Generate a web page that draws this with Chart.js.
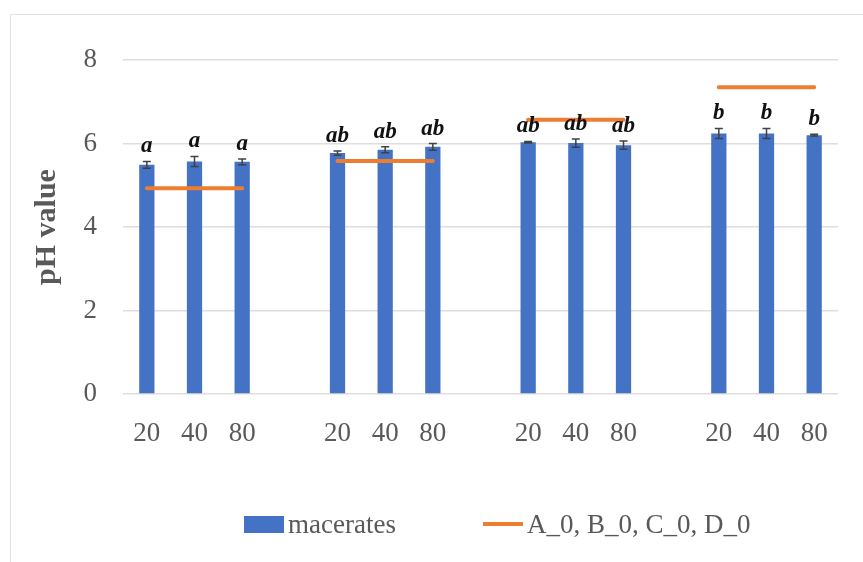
<!DOCTYPE html>
<html>
<head>
<meta charset="utf-8">
<script src="https://cdn.jsdelivr.net/npm/chart.js@4.4.1/dist/chart.umd.min.js"></script>
<style>
  html, body { margin: 0; padding: 0; background: #fff; }
  #wrap { position: relative; width: 863px; height: 562px; overflow: hidden; }
  #frame {
    position: absolute; left: 10px; top: 14px; width: 900px; height: 600px;
    border: 1.5px solid #e3e3e3; box-sizing: border-box;
  }
  #chart { position: absolute; left: 0; top: 0; }
  .legend {
    position: absolute; top: 506px; height: 36px; display: flex; align-items: center;
    font-family: "Liberation Serif", serif; font-size: 27px; color: #595959;
  }
  .legend .box  { width: 40px; height: 17px; background: #4472C4; margin-right: 4px; }
  .legend .line { width: 40px; height: 4px;  background: #ED7D31; margin-right: 4px; }
</style>
</head>
<body>
<div id="wrap">
  <div id="frame"></div>
  <canvas id="chart" width="863" height="562"></canvas>
  <div class="legend" style="left:244px"><span class="box"></span>macerates</div>
  <div class="legend" style="left:483px"><span class="line"></span>A_0, B_0, C_0, D_0</div>
</div>
<script>
"use strict";

// ── Data (15 slots: 4 groups of 3, blank slot between groups) ─────────────────
const categories = ["20", "40", "80", "", "20", "40", "80", "", "20", "40", "80", "", "20", "40", "80"];
const macerates  = [5.49, 5.57, 5.56, null, 5.77, 5.85, 5.92, null, 6.03, 6.01, 5.96, null, 6.24, 6.24, 6.20];
const errors     = [0.08, 0.12, 0.07, null, 0.05, 0.07, 0.08, null, 0.02, 0.10, 0.10, null, 0.12, 0.12, 0.02];
const letters    = ["a", "a", "a", "", "ab", "ab", "ab", "", "ab", "ab", "ab", "", "b", "b", "b"];
const controls   = [4.93, 4.93, 4.93, null, 5.58, 5.58, 5.58, null, 6.57, 6.57, 6.57, null, 7.35, 7.35, 7.35];
const yTicks     = [0, 2, 4, 6, 8];

const C = {
  bar:   "#4472C4",
  line:  "#ED7D31",
  grid:  "#dedede",
  text:  "#595959",
  err:   "#404040",
};

// ── Error bars + significance letters ─────────────────────────────────────────
const errorBarPlugin = {
  id: "errorBars",
  afterDatasetsDraw(chart) {
    const { ctx, scales: { y } } = chart;
    const meta = chart.getDatasetMeta(0);
    ctx.save();
    meta.data.forEach((bar, i) => {
      const v = macerates[i];
      if (v == null) return;
      const e = errors[i] || 0;
      const yHi = y.getPixelForValue(v + e);
      const yLo = y.getPixelForValue(v - e);
      const x = bar.x;
      ctx.strokeStyle = C.err;
      ctx.lineWidth = 1.5;
      ctx.beginPath();
      ctx.moveTo(x, yHi); ctx.lineTo(x, yLo);
      ctx.moveTo(x - 4, yHi); ctx.lineTo(x + 4, yHi);
      ctx.moveTo(x - 4, yLo); ctx.lineTo(x + 4, yLo);
      ctx.stroke();

      ctx.fillStyle = "#111";
      ctx.font = "italic bold 23px 'Liberation Serif', serif";
      ctx.textAlign = "center";
      ctx.textBaseline = "alphabetic";
      ctx.fillText(letters[i], x, yHi - 9);
    });
    ctx.restore();
  },
};

// ── Chart ─────────────────────────────────────────────────────────────────────
const ctx = document.getElementById("chart").getContext("2d");

new Chart(ctx, {
  data: {
    labels: categories,
    datasets: [
      {
        type: "bar",
        label: "macerates",
        data: macerates,
        backgroundColor: C.bar,
        barPercentage: 0.32,
        categoryPercentage: 1,
        order: 2,
      },
      {
        type: "line",
        label: "A_0, B_0, C_0, D_0",
        data: controls,
        borderColor: C.line,
        borderWidth: 4,
        borderCapStyle: "round",
        pointRadius: 0,
        spanGaps: false,
        tension: 0,
        order: 1,
      },
    ],
  },
  options: {
    responsive: false,
    animation: false,
    layout: { padding: { top: 60, right: 25, bottom: 0, left: 0 } },
    plugins: {
      legend:  { display: false },
      tooltip: { enabled: false },
    },
    scales: {
      x: {
        grid:   { display: false, drawTicks: false },
        border: { display: false },
        ticks:  {
          color: C.text, padding: 24, maxRotation: 0, autoSkip: false,
          font: { family: "'Liberation Serif', serif", size: 27 },
        },
        afterFit: s => { s.height = 168; },
      },
      y: {
        min: 0, max: 8,
        afterBuildTicks: s => { s.ticks = yTicks.map(v => ({ value: v })); },
        grid:   { color: C.grid, lineWidth: 1.5, drawTicks: false },
        border: { display: false },
        ticks:  {
          color: C.text, padding: 26,
          font: { family: "'Liberation Serif', serif", size: 27 },
        },
        title: {
          display: true,
          text: "pH value",
          color: C.text,
          padding: { top: 29, bottom: 0 },
          font: { family: "'Liberation Serif', serif", size: 30, weight: "bold" },
        },
        afterFit: s => { s.width = 123; },
      },
    },
  },
  plugins: [errorBarPlugin],
});
</script>
</body>
</html>
